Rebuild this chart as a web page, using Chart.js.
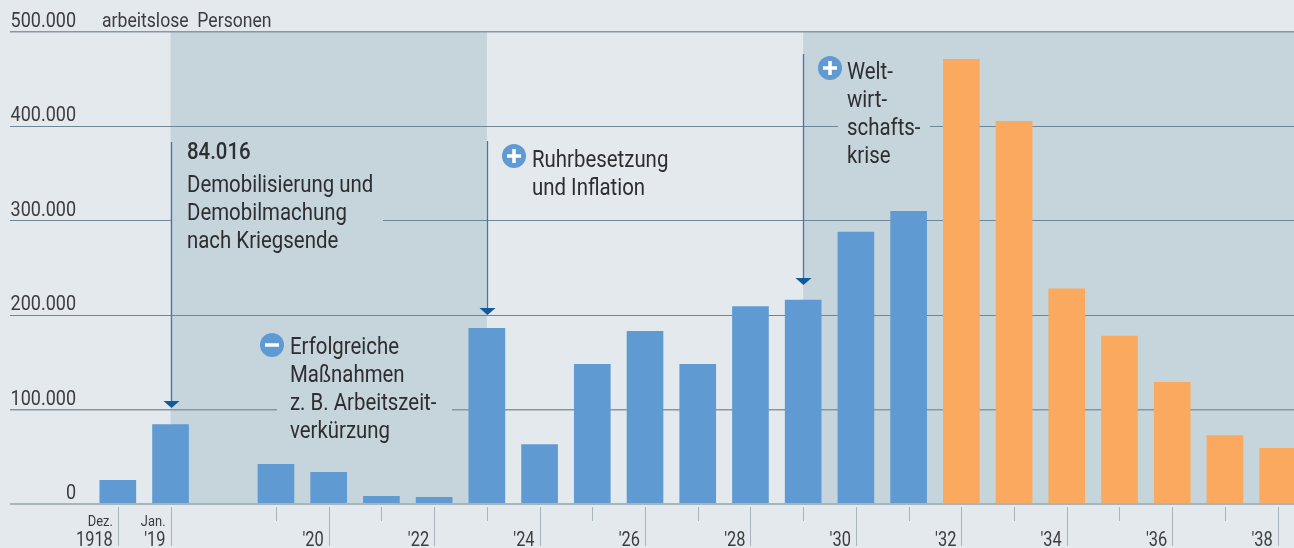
<!DOCTYPE html>
<html><head><meta charset="utf-8">
<script src="https://cdn.jsdelivr.net/npm/chart.js@4"></script>
<style>html,body{margin:0;padding:0;background:#e4e9ee}#w{width:1294px;height:548px;position:relative}</style>
</head><body><div id="w"><canvas id="c" width="1294" height="548"></canvas></div>
<script>
const FONT='Roboto,sans-serif';
const categories=['Dez. 1918','Jan. 1919','1919','1920','1921','1922','1923','1924','1925','1926','1927','1928','1929','1930','1931','1932','1933','1934','1935','1936','1937','1938'];
const positions=[0,1,3,4,5,6,7,8,9,10,11,12,13,14,15,16,17,18,19,20,21,22];
const unemployed=[25000,84016,42000,33500,8000,7000,186000,63000,148000,183000,148000,209000,216000,288000,310000,471000,405500,228000,178000,129000,72600,59000];
const barColors=positions.map((p,i)=>i<15?'#5f9ad3':'#fba95f');
const yTicks=[0,100000,200000,300000,400000,500000];
const yLabels=['0','100.000','200.000','300.000','400.000','500.000'];
const xTickLabels={0:'1918',1:"'19",4:"'20",6:"'22",8:"'24",10:"'26",12:"'28",14:"'30",16:"'32",18:"'34",20:"'36",22:"'38"};
const monthLabels={0:'Dez.',1:'Jan.'};
const shortTicks=[3,5,7,9,11,13,15,17,19,21];
const longTicks=[0,1,4,6,8,10,12,14,16,18,20,22];
const bands=[[1,7],[13,null]];
const yTitle='arbeitslose  Personen';
const notes=[
 {lines:['84.016'],x:187,y:153,dark:true},
 {lines:['Demobilisierung und','Demobilmachung','nach Kriegsende'],x:187,y:186},
 {lines:['Erfolgreiche','Maßnahmen','z. B. Arbeitszeit-','verkürzung'],x:290,y:348},
 {lines:['Ruhrbesetzung','und Inflation'],x:532,y:161},
 {lines:['Welt-','wirt-','schafts-','krise'],x:847,y:73}
];
const badges=[{x:272,y:345,sign:'-'},{x:514,y:156,sign:'+'},{x:830,y:68,sign:'+'}];
const arrows=[{x:1,from:142,to:408},{x:7,from:141,to:315},{x:13,from:54,to:285}];
const masks=[{v:300000,from:172,to:383},{v:100000,from:277,to:452},{v:400000,from:838,to:930}];

function squeezed(ctx,txt,x,y,sx,align){
 ctx.save();ctx.translate(x,y);ctx.scale(sx,1);ctx.textAlign=align;ctx.fillText(txt,0,0);ctx.restore();
}
const painter={id:'painter',
 beforeDraw(ch){const {ctx,scales:{x,y}}=ch;ctx.save();
  ctx.fillStyle='#e4e9ee';ctx.fillRect(0,0,ch.width,ch.height);
  ctx.fillStyle='#c6d4dc';
  bands.forEach(b=>{const l=x.getPixelForValue(b[0]),r=b[1]==null?ch.width:x.getPixelForValue(b[1]);
   ctx.fillRect(l,y.getPixelForValue(500000),r-l,y.getPixelForValue(0)-y.getPixelForValue(500000));});
  ctx.restore();},
 beforeDatasetsDraw(ch){const {ctx,scales:{y}}=ch;ctx.save();
  ctx.fillStyle='#c6d4dc';
  masks.forEach(m=>ctx.fillRect(m.from,y.getPixelForValue(m.v)-2,m.to-m.from,4));
  ctx.restore();},
 afterDatasetsDraw(ch){const {ctx,scales:{x,y}}=ch;ctx.save();
  ctx.strokeStyle='#a8b4bc';ctx.lineWidth=2;ctx.beginPath();ctx.moveTo(10,y.getPixelForValue(0));ctx.lineTo(ch.width,y.getPixelForValue(0));ctx.stroke();
  ctx.lineWidth=1;
  longTicks.forEach(t=>{const p=Math.round(x.getPixelForValue(t))+.5;ctx.beginPath();ctx.moveTo(p,507);ctx.lineTo(p,546);ctx.stroke();});
  shortTicks.forEach(t=>{const p=Math.round(x.getPixelForValue(t))+.5;ctx.beginPath();ctx.moveTo(p,507);ctx.lineTo(p,521);ctx.stroke();});
  ctx.fillStyle='#3c3c3e';ctx.textBaseline='alphabetic';
  ctx.font='400 15px '+FONT;
  Object.keys(monthLabels).forEach(k=>squeezed(ctx,monthLabels[k],x.getPixelForValue(+k)-5,526,.86,'right'));
  ctx.font='400 21px '+FONT;
  Object.keys(xTickLabels).forEach(k=>squeezed(ctx,xTickLabels[k],x.getPixelForValue(+k)-5,546,.78,'right'));
  ctx.font='400 20px '+FONT;
  yTicks.forEach((v,i)=>squeezed(ctx,yLabels[i],76,y.getPixelForValue(v)-5,.9,'right'));
  ctx.font='400 20px '+FONT;squeezed(ctx,yTitle,102,27,.88,'left');
  ctx.textAlign='left';
  arrows.forEach(a=>{const p=Math.round(x.getPixelForValue(a.x))+.5;ctx.strokeStyle='#3d79ad';ctx.lineWidth=1.3;ctx.beginPath();ctx.moveTo(p,a.from);ctx.lineTo(p,a.to-6);ctx.stroke();
   ctx.fillStyle='#0f5a99';ctx.beginPath();ctx.moveTo(p-8,a.to-7);ctx.lineTo(p+8,a.to-7);ctx.lineTo(p,a.to);ctx.closePath();ctx.fill();});
  ctx.textBaseline='middle';
  notes.forEach(n=>{ctx.font=(n.dark?'500 ':'400 ')+'24px '+FONT;ctx.fillStyle='#2e2e30';n.lines.forEach((l,i)=>squeezed(ctx,l,n.x,n.y+i*28,.85,'left'));});
  badges.forEach(b=>{ctx.fillStyle='#5f9ad3';ctx.beginPath();ctx.arc(b.x,b.y,12,0,Math.PI*2);ctx.fill();
   ctx.strokeStyle='#fff';ctx.lineWidth=3.5;ctx.beginPath();ctx.moveTo(b.x-7,b.y);ctx.lineTo(b.x+7,b.y);
   if(b.sign==='+'){ctx.moveTo(b.x,b.y-7);ctx.lineTo(b.x,b.y+7);}ctx.stroke();});
  ctx.restore();}
};
Chart.defaults.animation=false;
new Chart(document.getElementById('c'),{
 type:'bar',
 data:{labels:categories,datasets:[{label:yTitle,data:positions.map((p,i)=>({x:p,y:unemployed[i]})),backgroundColor:barColors,barThickness:36,borderWidth:0}]},
 plugins:[painter],
 options:{responsive:false,animation:false,
  layout:{padding:{left:10,right:0,top:32,bottom:0}},
  plugins:{legend:{display:false},tooltip:{enabled:false}},
  scales:{
   x:{type:'linear',offset:false,min:-2.045,max:22.31,
      grid:{display:false},border:{display:false},
      afterFit(s){s.height=44;},
      ticks:{display:false,stepSize:1}},
   y:{min:0,max:500000,position:'left',
      afterFit(s){s.width=0;},
      afterBuildTicks(s){s.ticks=yTicks.map(v=>({value:v}));},
      border:{display:false},
      grid:{color:c=>c.tick.value===100000||c.tick.value===500000?'#8698a4':'#6f8696',lineWidth:c=>c.tick.value===100000||c.tick.value===500000?1.6:1,drawTicks:false},
      ticks:{display:false}}
  }}
});
</script></body></html>
